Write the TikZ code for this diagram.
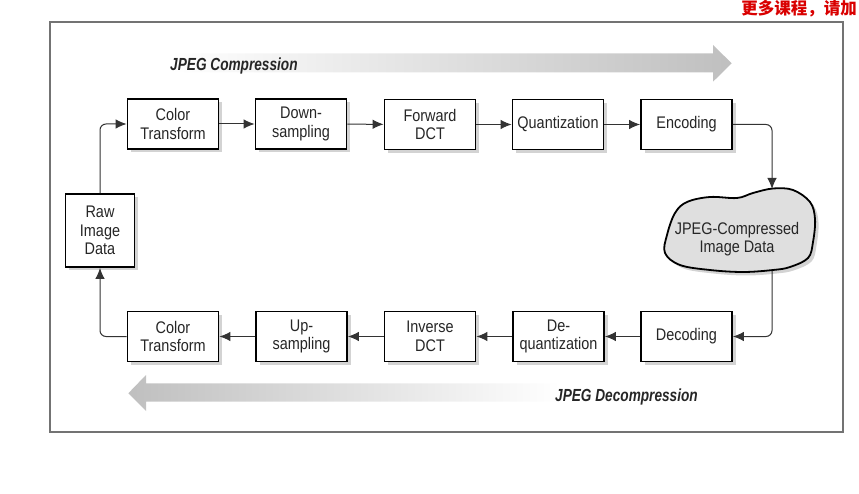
\documentclass[tikz,border=0pt]{standalone}
\usepackage{fontspec}
\setmainfont{Liberation Sans}[FakeStretch=0.86]
\newfontfamily\headfont{Liberation Sans}[FakeStretch=0.78]
\newfontfamily\cjk{Noto Sans CJK SC}
\usepackage{tikz}
\usetikzlibrary{arrows.meta}
\usetikzlibrary{shadows}
\tikzset{>={Latex[length=11pt,width=9.5pt]}}
\tikzset{stage/.style = {shape=rectangle,draw,line width=1.8pt,fill=white,minimum width=91pt,minimum height=50pt,inner sep=0pt,align=center,text=black!85,font=\fontsize{16.8}{18.5}\selectfont,drop shadow={shadow xshift=3.5pt,shadow yshift=-3.5pt,opacity=0.35}}}
\tikzset{conn/.style = {->,line width=1pt,black!80,rounded corners=6pt}}
\tikzset{heading/.style = {inner sep=0pt,text=black!85,font=\headfont\bfseries\itshape\fontsize{17.5}{20}\selectfont}}

\begin{document}
\begin{tikzpicture}[x=1pt,y=-1pt]
                    \useasboundingbox (0,0) rectangle (859,494);
                    \draw[line width=1.2pt,black!55] (50,22) rectangle (843,432);
                    \node[anchor=east,inner sep=0pt,text=red!85!black,font=\cjk\bfseries\fontsize{16.5}{18}\selectfont] (mark) at (857,9) {更多课程，请加};

                    % direction bands
                    \shade[left color=white,right color=gray!50] (170,53.3) -- (713,53.3) -- (713,45) -- (731.7,63.3) -- (713,81.7) -- (713,72.3) -- (170,72.3) -- cycle;
                    \shade[left color=gray!50,right color=white] (560,383.3) -- (146,383.3) -- (146,375) -- (128.3,393.3) -- (146,411) -- (146,401.7) -- (560,401.7) -- cycle;
                    \node[heading,anchor=west] (comp) at (170,66) {JPEG Compression};
                    \node[heading,anchor=east] (decomp) at (698,397) {JPEG Decompression};

                    \node[stage,minimum width=69pt,minimum height=73pt] (Raw) at (100,230.5) {Raw\\Image\\Data};
                    \node[stage] (CTa) at (173,124) {Color\\Transform};
                    \node[stage] (Ds) at (301,124) {Down-\\sampling};
                    \node[stage] (Fd) at (430,124.5) {Forward\\DCT};
                    \node[stage] (Q) at (558,124.5) {Quantization};
                    \node[stage] (Enc) at (686.5,124.5) {Encoding};

                    \node[stage] (Dec) at (686.5,336.5) {Decoding};
                    \node[stage] (Dq) at (558.5,336.5) {De-\\quantization};
                    \node[stage] (Id) at (430,336.5) {Inverse\\DCT};
                    \node[stage] (Us) at (301.5,336.5) {Up-\\sampling};
                    \node[stage] (CTb) at (173,336.5) {Color\\Transform};

                    % compressed data blob
                    \draw[line width=1.8pt,fill=gray!25,drop shadow={shadow xshift=3.5pt,shadow yshift=-3.5pt,opacity=0.35}]
                        plot[smooth cycle,tension=0.6] coordinates {(675,213) (687,202) (710,197) (737,198) (753,193) (773,188.5) (793,190) (810,202) (815,219) (813,242) (808,258) (790,267) (773,270) (743,272) (710,270) (680,265) (665,253) (667,235)};
                    \node[align=center,text=black!85,font=\fontsize{16.8}{18.5}\selectfont] (Img) at (737,239) {JPEG-Compressed\\Image Data};
                    \coordinate (Imgtop) at (772,189);
                    \coordinate (Imgbot) at (772,271);

                    \draw[conn] (Raw) |- (CTa);
                    \draw[conn] (CTa) -- (Ds);
                    \draw[conn] (Ds) -- (Fd);
                    \draw[conn] (Fd) -- (Q);
                    \draw[conn] (Q) -- (Enc);
                    \draw[conn] (Enc) -| (Imgtop);
                    \draw[conn] (Imgbot) |- (Dec);
                    \draw[conn] (Dec) -- (Dq);
                    \draw[conn] (Dq) -- (Id);
                    \draw[conn] (Id) -- (Us);
                    \draw[conn] (Us) -- (CTb);
                    \draw[conn] (CTb) -| (Raw);
                \end{tikzpicture}
\end{document}
